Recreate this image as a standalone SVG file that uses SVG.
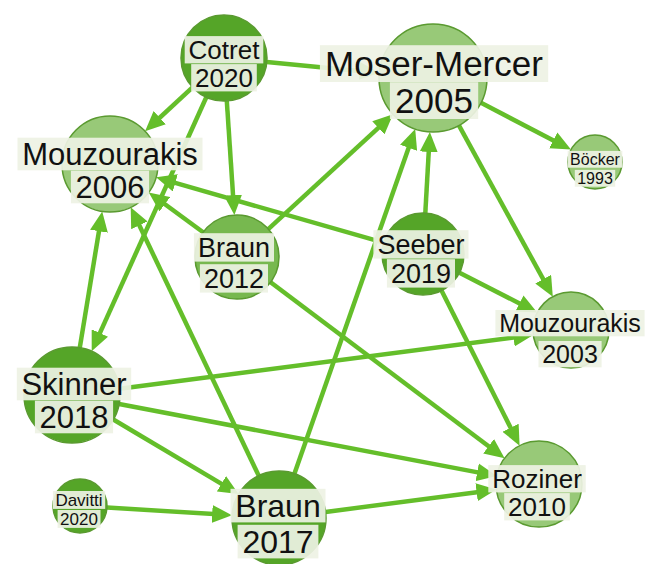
<svg xmlns="http://www.w3.org/2000/svg" width="645" height="564" viewBox="0 0 645 564">
<style>
.e{stroke:#64be2a;stroke-width:4.5;fill:none;marker-end:url(#ah)}
.n{stroke:#5a9a30;stroke-width:1.5}
.dk{fill:#55a528}
.lt{fill:#98c978}
.md{fill:#77b84f}
.bg{fill:#eef2e4;opacity:0.92}
text{font-family:"Liberation Sans",Arial,Helvetica,sans-serif;fill:#111;text-anchor:middle}
</style>
<defs>
<marker id="ah" markerUnits="userSpaceOnUse" markerWidth="20" markerHeight="18" refX="10" refY="9" orient="auto">
<path d="M0,0 L20,9 L0,18 z" fill="#64be2a"/>
</marker>
</defs>
<rect width="645" height="564" fill="#fff"/>
<g id="connectors">
<line class="e" x1="192.5" y1="87.3" x2="152.4" y2="124.5"/>
<line class="e" x1="226.8" y1="100.9" x2="233.7" y2="205.1"/>
<line class="e" x1="206.3" y1="97.2" x2="95.8" y2="342.1"/>
<line class="e" x1="266.8" y1="62.1" x2="369.3" y2="71.9"/>
<line class="e" x1="79.8" y1="347.6" x2="100.6" y2="221.3"/>
<line class="e" x1="258.7" y1="475.6" x2="135" y2="216.3"/>
<line class="e" x1="203.1" y1="232.2" x2="156.8" y2="198.3"/>
<line class="e" x1="383.6" y1="242.7" x2="165.7" y2="180.1"/>
<line class="e" x1="268" y1="229.3" x2="385.7" y2="121.1"/>
<line class="e" x1="270.6" y1="282.2" x2="496.6" y2="452.2"/>
<line class="e" x1="425.3" y1="213.1" x2="429.3" y2="141.9"/>
<line class="e" x1="294.5" y1="473.6" x2="411.9" y2="138.4"/>
<line class="e" x1="459.5" y1="272.7" x2="528.3" y2="308"/>
<line class="e" x1="458.9" y1="125.4" x2="548" y2="287.9"/>
<line class="e" x1="481" y1="102.8" x2="562.1" y2="145"/>
<line class="e" x1="441.5" y1="290.6" x2="515.1" y2="436.7"/>
<line class="e" x1="119.6" y1="388.8" x2="523.4" y2="336.2"/>
<line class="e" x1="119.1" y1="404" x2="487" y2="474.1"/>
<line class="e" x1="113.3" y1="419.5" x2="230" y2="488.9"/>
<line class="e" x1="107" y1="507.6" x2="222.1" y2="514.6"/>
<line class="e" x1="325.6" y1="511.9" x2="486.5" y2="490.9"/>
</g>
<g id="cotret2020">
<circle class="n dk" cx="224" cy="58" r="43"/>
<rect class="bg" x="184.7" y="36.1" width="78.6" height="27.3"/>
<rect class="bg" x="191.2" y="64.1" width="65.6" height="27.3"/>
<text x="224" y="59" font-size="26">Cotret</text>
<text x="224" y="87" font-size="26">2020</text>
</g>
<g id="mosermercer2005">
<circle class="n lt" cx="433" cy="78" r="54"/>
<rect class="bg" x="319.9" y="45.2" width="228.3" height="36.8"/>
<rect class="bg" x="389.9" y="82.2" width="88.3" height="36.8"/>
<text x="434" y="76" font-size="35">Moser-Mercer</text>
<text x="434" y="113" font-size="35">2005</text>
</g>
<g id="mouzourakis2006">
<circle class="n lt" cx="110" cy="164" r="48"/>
<rect class="bg" x="17.5" y="137.7" width="185" height="32.6"/>
<rect class="bg" x="70.9" y="170.7" width="78.2" height="32.6"/>
<text x="110" y="165" font-size="31">Mouzourakis</text>
<text x="110" y="198" font-size="31">2006</text>
</g>
<g id="braun2012">
<circle class="n md" cx="237" cy="257" r="42"/>
<rect class="bg" x="193.9" y="233.2" width="80.1" height="28.4"/>
<rect class="bg" x="199.9" y="264.2" width="68.1" height="28.4"/>
<text x="234" y="257" font-size="27">Braun</text>
<text x="234" y="288" font-size="27">2012</text>
</g>
<g id="seeber2019">
<circle class="n dk" cx="423" cy="254" r="41"/>
<rect class="bg" x="373.4" y="230.2" width="95.1" height="28.4"/>
<rect class="bg" x="386.9" y="259.2" width="68.1" height="28.4"/>
<text x="421" y="254" font-size="27">Seeber</text>
<text x="421" y="283" font-size="27">2019</text>
</g>
<g id="bocker1993">
<circle class="n lt" cx="595" cy="162" r="27"/>
<rect class="bg" x="567.7" y="150.9" width="54.6" height="16.8"/>
<rect class="bg" x="574.8" y="169.9" width="40.4" height="16.8"/>
<text x="595" y="165" font-size="16">Böcker</text>
<text x="595" y="184" font-size="16">1993</text>
</g>
<g id="mouzourakis2003">
<circle class="n lt" cx="571" cy="330" r="38"/>
<rect class="bg" x="495.4" y="310" width="149.2" height="26.3"/>
<rect class="bg" x="538.5" y="341" width="63.1" height="26.3"/>
<text x="570" y="332" font-size="25">Mouzourakis</text>
<text x="570" y="363" font-size="25">2003</text>
</g>
<g id="skinner2018">
<circle class="n dk" cx="72" cy="395" r="48"/>
<rect class="bg" x="16.8" y="367.7" width="114.4" height="32.6"/>
<rect class="bg" x="34.9" y="400.7" width="78.2" height="32.6"/>
<text x="74" y="395" font-size="31">Skinner</text>
<text x="74" y="428" font-size="31">2018</text>
</g>
<g id="davitti2020">
<circle class="n dk" cx="80" cy="506" r="27"/>
<rect class="bg" x="52.9" y="491" width="52.3" height="17.9"/>
<rect class="bg" x="57.6" y="510" width="42.9" height="17.9"/>
<text x="79" y="506" font-size="17">Davitti</text>
<text x="79" y="525" font-size="17">2020</text>
</g>
<g id="braun2017">
<circle class="n dk" cx="279" cy="518" r="47"/>
<rect class="bg" x="230.5" y="488.8" width="95" height="33.6"/>
<rect class="bg" x="237.6" y="524.8" width="80.8" height="33.6"/>
<text x="278" y="517" font-size="32">Braun</text>
<text x="278" y="553" font-size="32">2017</text>
</g>
<g id="roziner2010">
<circle class="n lt" cx="539" cy="484" r="43"/>
<rect class="bg" x="488.3" y="465.1" width="97.4" height="27.3"/>
<rect class="bg" x="504.2" y="493.1" width="65.6" height="27.3"/>
<text x="537" y="488" font-size="26">Roziner</text>
<text x="537" y="516" font-size="26">2010</text>
</g>
</svg>
